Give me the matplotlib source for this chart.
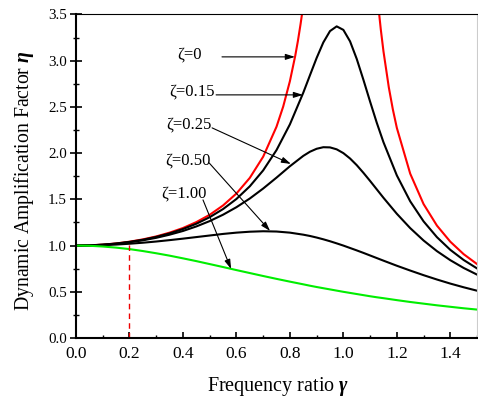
import numpy as np
import matplotlib
matplotlib.use("Agg")
import matplotlib.pyplot as plt

plt.rcParams['font.family'] = ['Liberation Serif', 'DejaVu Serif']
plt.rcParams['mathtext.fontset'] = 'custom'
plt.rcParams['mathtext.rm'] = 'Liberation Serif'
plt.rcParams['mathtext.it'] = 'Liberation Serif:italic'
plt.rcParams['mathtext.bf'] = 'Liberation Serif:bold'
plt.rcParams['mathtext.bfit'] = 'Liberation Serif:italic:bold'

# frequency ratio grid shared by the damped curves
gamma = [0.00, 0.05, 0.10, 0.15, 0.20, 0.25, 0.30, 0.35, 0.40, 0.45, 0.50, 0.55,
         0.60, 0.65, 0.70, 0.75, 0.80, 0.85, 0.875, 0.90, 0.925, 0.95, 0.975, 1.00,
         1.025, 1.05, 1.075, 1.10, 1.125, 1.15, 1.20, 1.25, 1.30, 1.35, 1.40, 1.45, 1.50]

eta_015 = [1.000, 1.002, 1.010, 1.022, 1.040, 1.063, 1.094, 1.132, 1.179, 1.236, 1.307, 1.395,
           1.504, 1.641, 1.813, 2.033, 2.311, 2.653, 2.842, 3.029, 3.197, 3.320, 3.371, 3.333,
           3.209, 3.019, 2.793, 2.557, 2.328, 2.118, 1.759, 1.479, 1.262, 1.091, 0.954, 0.844, 0.753]
eta_025 = [1.000, 1.002, 1.009, 1.020, 1.036, 1.057, 1.084, 1.118, 1.158, 1.207, 1.265, 1.334,
           1.415, 1.509, 1.617, 1.735, 1.858, 1.970, 2.015, 2.047, 2.064, 2.062, 2.041, 2.000,
           1.942, 1.870, 1.787, 1.699, 1.608, 1.517, 1.344, 1.189, 1.055, 0.940, 0.842, 0.758, 0.686]
eta_050 = [1.000, 1.001, 1.005, 1.011, 1.020, 1.031, 1.044, 1.059, 1.075, 1.092, 1.109, 1.126,
           1.140, 1.150, 1.155, 1.152, 1.140, 1.118, 1.104, 1.087, 1.068, 1.047, 1.024, 1.000,
           0.974, 0.948, 0.921, 0.893, 0.865, 0.837, 0.782, 0.730, 0.680, 0.633, 0.589, 0.549, 0.512]
eta_100 = [1.000, 0.998, 0.990, 0.978, 0.962, 0.941, 0.917, 0.891, 0.862, 0.832, 0.800, 0.768,
           0.735, 0.703, 0.671, 0.640, 0.610, 0.581, 0.566, 0.552, 0.539, 0.526, 0.513, 0.500,
           0.488, 0.476, 0.464, 0.452, 0.441, 0.431, 0.410, 0.390, 0.372, 0.354, 0.338, 0.322, 0.308]

# undamped curve, two branches around resonance
gamma_u1 = [0.00, 0.05, 0.10, 0.15, 0.20, 0.25, 0.30, 0.35, 0.40, 0.45, 0.50, 0.55, 0.60,
            0.65, 0.70, 0.75, 0.775, 0.80, 0.82, 0.83, 0.84, 0.845, 0.85]
eta_u1 = [1.000, 1.003, 1.010, 1.023, 1.042, 1.067, 1.099, 1.140, 1.190, 1.254, 1.333, 1.434, 1.563,
          1.732, 1.961, 2.286, 2.504, 2.778, 3.053, 3.214, 3.397, 3.497, 3.604]
gamma_u2 = [1.13, 1.14, 1.15, 1.17, 1.185, 1.20, 1.25, 1.30, 1.35, 1.40, 1.45, 1.50]
eta_u2 = [3.611, 3.338, 3.101, 2.711, 2.474, 2.273, 1.778, 1.449, 1.216, 1.042, 0.907, 0.800]

gamma_mark = 0.2
eta_mark = 1.04

labels = ['ζ=0', 'ζ=0.15', 'ζ=0.25', 'ζ=0.50', 'ζ=1.00']

fig = plt.figure(figsize=(4.78, 4.01), dpi=100)
ax = fig.add_axes([0.159, 0.157, 0.839, 0.807])

ax.plot(gamma_u1, eta_u1, color='#ff0000', lw=1.5)
ax.plot(gamma_u2, eta_u2, color='#ff0000', lw=1.5)
ax.plot(gamma, eta_015, color='k', lw=1.5)
ax.plot(gamma, eta_025, color='k', lw=1.5)
ax.plot(gamma, eta_050, color='k', lw=1.5)
ax.plot(gamma, eta_100, color='#00ee00', lw=1.5)
ax.plot([gamma_mark, gamma_mark], [0, eta_mark], color='#ee0000', lw=1.0, ls=(0, (4, 3)))

ax.set_xlim(0, 1.5)
ax.set_ylim(0, 3.5)
ax.set_xticks(np.arange(0, 1.51, 0.2))
ax.set_xticks(np.arange(0, 1.51, 0.1), minor=True)
ax.set_yticks(np.arange(0, 3.51, 0.5))
ax.set_yticks(np.arange(0, 3.51, 0.25), minor=True)
ax.xaxis.set_major_formatter(matplotlib.ticker.FormatStrFormatter('%.1f'))
ax.yaxis.set_major_formatter(matplotlib.ticker.FormatStrFormatter('%.1f'))
ax.tick_params(axis='x', which='major', direction='in', length=4, width=1.2, labelsize=12.5, pad=6)
ax.tick_params(axis='x', which='minor', direction='in', length=2.5, width=1.0)
ax.tick_params(axis='y', which='major', direction='inout', length=8.5, width=1.2, labelsize=10.8, pad=2.5)
ax.tick_params(axis='y', which='minor', direction='inout', length=4, width=1.0)

ax.spines['left'].set_linewidth(1.5)
ax.spines['bottom'].set_linewidth(1.5)
ax.spines['top'].set_linewidth(0.8)
ax.spines['right'].set_linewidth(0.8)
ax.spines['right'].set_color('#cccccc')

ax.set_xlabel(r'Frequency ratio $\boldsymbol{\gamma}$', fontsize=14.5)
ax.set_ylabel(r'Dynamic Amplification Factor $\boldsymbol{\eta}$', fontsize=14.2)
ax.xaxis.set_label_coords(0.505, -0.115)
ax.yaxis.set_label_coords(-0.1, 0.485)

text_pos = [(0.426, 3.063), (0.434, 2.662), (0.423, 2.305), (0.417, 1.926), (0.402, 1.569)]
arrow_from = [(0.546, 3.041), (0.524, 2.630), (0.509, 2.273), (0.498, 1.894), (0.475, 1.494)]
arrow_to = [(0.819, 3.041), (0.849, 2.630), (0.804, 1.883), (0.726, 1.158), (0.580, 0.747)]

for lab, tp, a0, a1 in zip(labels, text_pos, arrow_from, arrow_to):
    ax.text(tp[0], tp[1], lab, fontsize=12, ha='center', va='center')
    ax.annotate('', xy=a1, xytext=a0,
                arrowprops=dict(arrowstyle='-|>,head_length=0.8,head_width=0.25',
                                mutation_scale=7, lw=0.8, color='k',
                                shrinkA=0, shrinkB=0))

fig.savefig('out.png', dpi=100)
